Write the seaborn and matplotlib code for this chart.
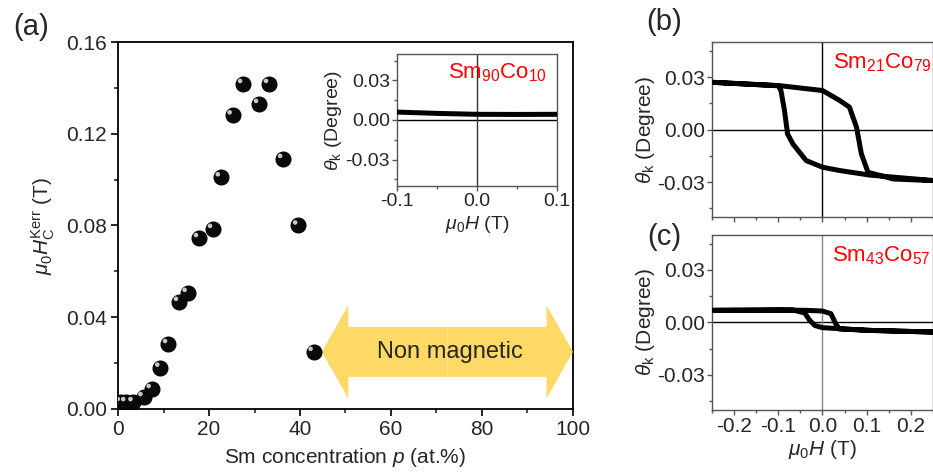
import matplotlib
matplotlib.use("Agg")
import matplotlib.pyplot as plt
import matplotlib.transforms as mtransforms
from matplotlib.patches import FancyArrowPatch
from matplotlib.ticker import MultipleLocator
import pandas as pd
import seaborn as sns

# (a) coercive field vs Sm concentration
sm_conc = [0.6, 1.8, 3.4, 5.6, 7.4, 9.3, 11.0, 13.4, 15.3, 17.8, 20.9, 22.6,
           25.2, 27.5, 31.0, 33.2, 36.3, 39.6, 43.0]
hc_kerr = [0.003, 0.003, 0.003, 0.0052, 0.0087, 0.018, 0.0283, 0.0467, 0.0506,
           0.0745, 0.0785, 0.101, 0.128, 0.1417, 0.133, 0.1417, 0.109, 0.080, 0.0249]

# inset: Sm90Co10 loop (flat)
field_90 = [-0.1, -0.05, 0.0, 0.05, 0.1]
kerr_90 = [0.006, 0.005, 0.0043, 0.0042, 0.0043]

# (b) Sm21Co79 loop, sweep down then back up
field_21 = [-0.25, -0.098, 0.0, 0.039, 0.061, 0.077, 0.088, 0.103, 0.16, 0.243, 0.25,
            0.107, 0.039, 0.0, -0.037, -0.067, -0.079, -0.086, -0.094, -0.1, -0.25]
kerr_21 = [0.027, 0.0251, 0.0223, 0.0166, 0.0128, 0.0013, -0.0139, -0.0244, -0.0282, -0.0291, -0.0291,
           -0.026, -0.0234, -0.0215, -0.0177, -0.0082, -0.0025, 0.0109, 0.0223, 0.025, 0.027]

# (c) Sm43Co57 loop
field_43 = [-0.25, -0.098, -0.037, 0.0, 0.019, 0.03, 0.038, 0.114, 0.25,
            0.1, 0.0, -0.017, -0.029, -0.04, -0.067, -0.25]
kerr_43 = [0.0069, 0.0071, 0.0069, 0.0065, 0.005, -0.0008, -0.0037, -0.0046, -0.0055,
           -0.0045, -0.003, -0.0018, 0.0012, 0.0054, 0.0071, 0.0069]

nm_start, nm_end, nm_level = 44.8, 100, 0.0249

sns.set_theme(style="ticks")
plt.rcParams["font.family"] = ["Liberation Sans", "DejaVu Sans"]
plt.rcParams["mathtext.fontset"] = "custom"
plt.rcParams["mathtext.rm"] = "Liberation Sans"
plt.rcParams["mathtext.it"] = "Liberation Sans:italic"
plt.rcParams["xtick.direction"] = "out"
plt.rcParams["ytick.direction"] = "out"

fig = plt.figure(figsize=(9.33, 4.72), dpi=100)
ax = fig.add_axes([0.1265, 0.1335, 0.4876, 0.7775])
axi = fig.add_axes([0.4255, 0.606, 0.1715, 0.2796])
axb = fig.add_axes([0.7631, 0.540, 0.2369, 0.371])
axc = fig.add_axes([0.7631, 0.1314, 0.2369, 0.371])

# ---- (a)
df = pd.DataFrame({"p": sm_conc, "hc": hc_kerr})
sns.scatterplot(data=df, x="p", y="hc", ax=ax, s=115, color="#0a0a0a",
                edgecolor="#000000", linewidth=0.8, zorder=5)
shift = mtransforms.ScaledTranslation(-2.2 / 72, 2.2 / 72, fig.dpi_scale_trans)
sns.scatterplot(data=df, x="p", y="hc", ax=ax, s=11, color="#c8c8c8",
                edgecolor="none", zorder=6, transform=ax.transData + shift)

mid = (nm_start + nm_end) / 2
for tip in (nm_start, nm_end):
    ax.add_patch(FancyArrowPatch((mid, nm_level), (tip, nm_level),
                                 arrowstyle="simple,head_length=19,head_width=67,tail_width=36",
                                 mutation_scale=1, shrinkA=0, shrinkB=0,
                                 fc="#FFD966", ec="none", zorder=3))
ax.text(mid + 0.5, nm_level, "Non magnetic", fontsize=17, ha="center", va="center", zorder=4)

ax.set_xlim(0, 100)
ax.set_ylim(0, 0.16)
ax.xaxis.set_major_locator(MultipleLocator(20))
ax.xaxis.set_minor_locator(MultipleLocator(10))
ax.set_yticks([0, 0.04, 0.08, 0.12, 0.16])
ax.set_yticklabels(["0.00", "0.04", "0.08", "0.12", "0.16"])
ax.yaxis.set_minor_locator(MultipleLocator(0.02))
ax.tick_params(labelsize=15, width=1.2, length=5, color="black", pad=3)
ax.tick_params(which="minor", width=1.2, length=3)
ax.set_xlabel("Sm concentration $p$ (at.%)", fontsize=15)
ax.set_ylabel(r"$\mu_0H_\mathrm{C}^\mathrm{Kerr}$ (T)", fontsize=15)
ax.xaxis.set_label_coords(0.5, -0.10)
ax.yaxis.set_label_coords(-0.135, 0.5)
for s in ax.spines.values():
    s.set_color("black")
    s.set_linewidth(1.3)


def loop_panel(a, x, y, label, lab_x, xlim, vcol, fs):
    d = pd.DataFrame({"H": x, "k": y})
    a.axhline(0, color="black", lw=1, zorder=1)
    a.axvline(0, color=vcol, lw=1, zorder=1)
    sns.lineplot(data=d, x="H", y="k", ax=a, sort=False, color="black", lw=3.6,
                 zorder=3, estimator=None)
    a.set_xlim(*xlim)
    a.set_ylim(-0.05, 0.05)
    a.set_yticks([-0.03, 0.0, 0.03])
    a.set_yticklabels(["-0.03", "0.00", "0.03"])
    a.yaxis.set_minor_locator(MultipleLocator(0.015))
    a.xaxis.set_major_locator(MultipleLocator(0.1))
    a.xaxis.set_minor_locator(MultipleLocator(0.05))
    a.tick_params(labelsize=fs, width=1, length=3.5, color="#555555", pad=1.5)
    a.tick_params(which="minor", width=1, length=2.5, color="#555555")
    for s in a.spines.values():
        s.set_color("#555555")
        s.set_linewidth(1)
    a.set_ylabel(r"$\theta_\mathrm{k}$ (Degree)", fontsize=fs)
    a.text(lab_x, 0.945, label, transform=a.transAxes, color="#ff0000", fontsize=16,
           ha="left", va="top")


# inset
loop_panel(axi, field_90, kerr_90, r"Sm$_{90}$Co$_{10}$", 0.32, (-0.1, 0.1), "#333333", 14)
axi.set_xticks([-0.1, 0.0, 0.1])
axi.set_xticklabels(["-0.1", "0.0", "0.1"])
axi.set_xlabel(r"$\mu_0H$ (T)", fontsize=14)
axi.xaxis.set_label_coords(0.5, -0.21)
axi.yaxis.set_label_coords(-0.33, 0.5)

# (b)
loop_panel(axb, field_21, kerr_21, r"Sm$_{21}$Co$_{79}$", 0.547, (-0.25, 0.25), "black", 15)
axb.set_xticklabels([])
axb.set_xlabel("")
axb.yaxis.set_label_coords(-0.25, 0.5)

# (c)
loop_panel(axc, field_43, kerr_43, r"Sm$_{43}$Co$_{57}$", 0.543, (-0.25, 0.25), "#888888", 15)
axc.set_xticks([-0.2, -0.1, 0.0, 0.1, 0.2])
axc.set_xticklabels(["-0.2", "-0.1", "0.0", "0.1", "0.2"])
axc.set_xlabel(r"$\mu_0H$ (T)", fontsize=15)
axc.xaxis.set_label_coords(0.5, -0.16)
axc.yaxis.set_label_coords(-0.25, 0.5)

fig.text(0.033, 0.943, "(a)", fontsize=21, ha="center", va="center")
fig.text(0.712, 0.953, "(b)", fontsize=21, ha="center", va="center")
fig.text(0.712, 0.498, "(c)", fontsize=21, ha="center", va="center")

fig.savefig("out.png", dpi=100)
